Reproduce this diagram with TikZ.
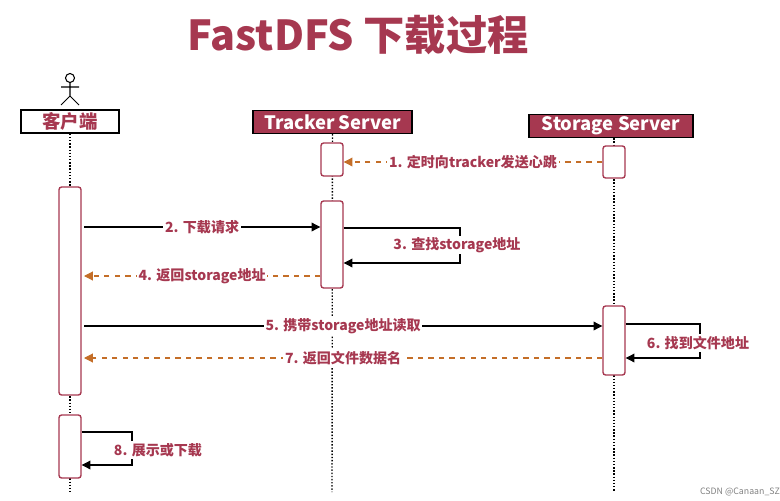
\documentclass[tikz,border=0pt]{standalone}
\usepackage{fontspec}
\setmainfont{Noto Sans CJK SC}
\usepackage{tikz}
\usetikzlibrary{positioning, arrows.meta, calc}
\definecolor{myred}{RGB}{166,56,80}
\definecolor{myorange}{RGB}{196,110,40}

\begin{document}
\begin{tikzpicture}
[x=0.02cm, y=-0.02cm,
 head/.style={rectangle, draw=black, thick, minimum height=23*0.02cm, inner sep=0pt, font=\bfseries\fontsize{10.5}{10}\selectfont},
 act/.style={rectangle, rounded corners=1.5pt, draw=myred, thick, fill=white, minimum width=22*0.02cm, inner sep=0pt},
 life/.style={densely dotted, thick},
 lab/.style={fill=white, inner sep=1pt, text=myred, font=\bfseries\fontsize{8}{9}\selectfont},
 req/.style={semithick, arrows={-Triangle[length=5pt, width=5pt]}},
 ret/.style={semithick, dashed, myorange, arrows={-Triangle[length=5pt, width=5pt]}},
 every text node part/.style={align=center}]

\useasboundingbox (0,0) rectangle (780,500);

% title
\node[text=myred, font=\bfseries\fontsize{23.5}{26}\selectfont] (title) at (358,35) {FastDFS 下载过程};

% actor
\draw[semithick] (70,78) circle (4.5);
\draw[semithick] (70,82.5) -- (70,96) (61,87) -- (79,87) (61,105) -- (70,96) -- (79,105);

% heads
\node[head, fill=white, text=myred, minimum width=98*0.02cm] (C) at (70,121.5) {客户端};
\node[head, fill=myred, text=white, minimum width=159*0.02cm] (T) at (332.5,122) {Tracker Server};
\node[head, fill=myred, text=white, minimum width=164*0.02cm] (S) at (611,126) {Storage Server};

% lifelines
\coordinate (Cend) at (70,492);
\coordinate (Tend) at (332,492);
\coordinate (Send) at (614,492);
\draw[life] (C.south) -- (Cend);
\draw[life] (T.south) -- (Tend);
\draw[life] (S.south -| Send) -- (Send);

% activations
\node[act, minimum height=208*0.02cm] (C1) at (70,291) {};
\node[act, minimum height=63*0.02cm] (C2) at (70,446.5) {};
\node[act, minimum height=33*0.02cm] (T1) at (332,159.5) {};
\node[act, minimum height=87*0.02cm] (T2) at (332,244.5) {};
\node[act, minimum height=32*0.02cm] (S1) at (614,162) {};
\node[act, minimum height=69*0.02cm] (S2) at (614,340.5) {};

% messages
\draw[ret] (S1.west |- 0,162) -- node[lab] {1. 定时向tracker发送心跳} (T1.east |- 0,162);
\draw[req] (84,227) -- node[lab] {2. 下载请求} (T2.west |- 0,227);
\draw[req] (T2.east |- 0,228) -- (460,228) -- (460,263) -- (T2.east |- 0,263);
\node[lab] (l3) at (457,245) {3. 查找storage地址};
\draw[ret] (T2.west |- 0,276) -- node[lab] {4. 返回storage地址} (84,276);
\draw[req] (84,326) -- node[lab] {5. 携带storage地址读取} (S2.west |- 0,326);
\draw[req] (S2.east |- 0,324) -- (700,324) -- (700,358) -- (S2.east |- 0,358);
\node[lab] (l6) at (698,343) {6. 找到文件地址};
\draw[ret] (S2.west |- 0,358) -- node[lab] {7. 返回文件数据名} (84,358);
\draw[req] (C2.east |- 0,432) -- (132,432) -- (132,465) -- (C2.east |- 0,465);
\node[lab] (l8) at (158,450) {8. 展示或下载};

\node[text=gray, font=\fontsize{5}{6}\selectfont] (wm) at (740,492) {CSDN @Canaan\_SZ};
\end{tikzpicture}
\end{document}
